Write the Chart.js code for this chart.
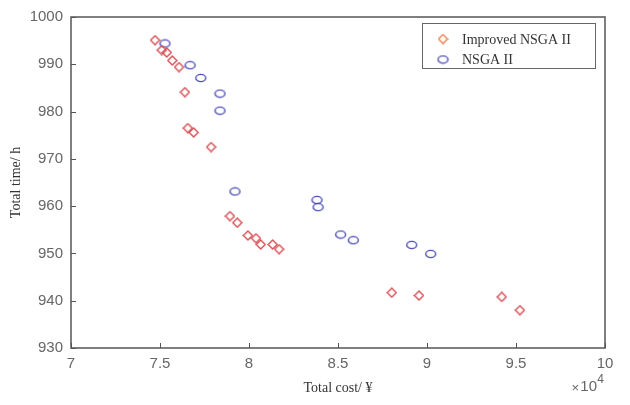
<!DOCTYPE html>
<html>
<head>
<meta charset="utf-8">
<script src="https://cdn.jsdelivr.net/npm/chart.js@4/dist/chart.umd.min.js"></script>
<style>
html, body { margin: 0; padding: 0; background: #fff; }
#wrap { width: 630px; height: 405px; }
</style>
</head>
<body>
<div id="wrap"><canvas id="chart"></canvas></div>
<script>
// values (cost in yuan, time in hours)
const improvedCost = [74720, 75100, 75380, 75690, 76070, 76400, 76560, 76890, 77870, 78930,
  79340, 79940, 80390, 80660, 81330, 81690, 88020, 89550, 94200, 95220];
const improvedTime = [995.1, 993.0, 992.5, 990.8, 989.4, 984.1, 976.5, 975.6, 972.5, 957.9,
  956.5, 953.8, 953.2, 951.9, 951.9, 950.9, 941.7, 941.1, 940.8, 938.0];
const nsgaCost = [75280, 76690, 77290, 78370, 78370, 79210, 83820, 83880, 85150, 85860, 89140, 90210];
const nsgaTime = [994.4, 989.8, 987.1, 983.8, 980.2, 963.1, 961.3, 959.8, 954.0, 952.8, 951.8, 949.9];
const seriesNames = ["Improved NSGA II", "NSGA II"];
const xTicks = [70000, 75000, 80000, 85000, 90000, 95000, 100000];
const yTicks = [930, 940, 950, 960, 970, 980, 990, 1000];

const redCol = "rgb(214,78,84)";
const blueCol = "rgb(78,78,184)";
const legendRed = "rgb(232,128,78)";

function diamond(color) {
  const c = document.createElement("canvas");
  c.width = 11; c.height = 11;
  const g = c.getContext("2d");
  g.strokeStyle = color;
  g.lineWidth = 1.4;
  g.beginPath();
  g.moveTo(5.5, 1); g.lineTo(10, 5.5); g.lineTo(5.5, 10); g.lineTo(1, 5.5);
  g.closePath();
  g.stroke();
  return c;
}

function ellipse(color) {
  const c = document.createElement("canvas");
  c.width = 13; c.height = 10;
  const g = c.getContext("2d");
  g.strokeStyle = color;
  g.lineWidth = 1.4;
  g.beginPath();
  g.ellipse(6.5, 5, 5, 3.6, 0, 0, Math.PI * 2);
  g.stroke();
  return c;
}

function toPoints(xs, ys) {
  return xs.map((x, i) => ({ x: x, y: ys[i] }));
}

const markers = [diamond(redCol), ellipse(blueCol)];
const legendMarkers = [diamond(legendRed), ellipse(blueCol)];

const frame = {
  id: "frame",
  afterDatasetsDraw(chart) {
    const ctx = chart.ctx;
    const a = chart.chartArea;
    const xs = chart.scales.x, ys = chart.scales.y;
    ctx.save();
    ctx.strokeStyle = "#555";
    ctx.lineWidth = 1.5;
    ctx.strokeRect(a.left, a.top, a.right - a.left, a.bottom - a.top);
    // inward tick marks
    ctx.lineWidth = 1;
    ctx.beginPath();
    xs.ticks.forEach((t, i) => {
      const px = Math.round(xs.getPixelForTick(i)) + 0.5;
      ctx.moveTo(px, a.bottom);
      ctx.lineTo(px, a.bottom - 5);
    });
    ys.ticks.forEach((t, i) => {
      const py = Math.round(ys.getPixelForTick(i)) + 0.5;
      ctx.moveTo(a.left, py);
      ctx.lineTo(a.left + 5, py);
    });
    ctx.stroke();

    // x10^4 multiplier
    ctx.fillStyle = "#666";
    ctx.textBaseline = "middle";
    ctx.textAlign = "right";
    ctx.font = "12px 'Liberation Sans', Arial, sans-serif";
    ctx.fillText("4", a.right - 1, 380);
    ctx.font = "15px 'Liberation Sans', Arial, sans-serif";
    ctx.fillText("10", a.right - 8, 387);
    ctx.font = "13px 'Liberation Sans', Arial, sans-serif";
    ctx.fillText("\u00d7", a.right - 26, 388);

    // legend box
    const lx = 422.5, ly = 23.5, lw = 173, lh = 45;
    ctx.fillStyle = "#fff";
    ctx.fillRect(lx, ly, lw, lh);
    ctx.strokeStyle = "#666";
    ctx.lineWidth = 1;
    ctx.strokeRect(lx, ly, lw, lh);
    ctx.font = "14px 'Liberation Serif', 'Times New Roman', serif";
    ctx.textAlign = "left";
    ctx.fillStyle = "#333";
    chart.data.datasets.forEach((ds, i) => {
      const cy = 39 + i * 20.5;
      const m = legendMarkers[i];
      ctx.drawImage(m, 443 - m.width / 2, cy - m.height / 2);
      ctx.fillText(ds.label, 462, cy + 1);
    });
    ctx.restore();
  }
};

new Chart(document.getElementById("chart"), {
  type: "scatter",
  data: {
    datasets: [
      {
        label: seriesNames[0],
        data: toPoints(improvedCost, improvedTime),
        pointStyle: markers[0],
        borderColor: redCol,
        backgroundColor: redCol
      },
      {
        label: seriesNames[1],
        data: toPoints(nsgaCost, nsgaTime),
        pointStyle: markers[1],
        borderColor: blueCol,
        backgroundColor: blueCol
      }
    ]
  },
  options: {
    responsive: true,
    maintainAspectRatio: false,
    animation: false,
    layout: { padding: { top: 13, right: 25, left: 0, bottom: 0 } },
    plugins: {
      legend: { display: false },
      tooltip: { enabled: false }
    },
    scales: {
      x: {
        type: "linear",
        min: 70000,
        max: 100000,
        afterFit(s) { s.height = 57; },
        afterBuildTicks(s) { s.ticks = xTicks.map(v => ({ value: v })); },
        grid: { display: false, drawTicks: false },
        border: { display: false },
        ticks: {
          padding: 7,
          color: "#666",
          font: { family: "'Liberation Sans', Arial, sans-serif", size: 15 },
          callback: v => String(v / 10000)
        },
        title: {
          display: true,
          text: "Total cost/ \u00a5",
          color: "#333",
          padding: { top: 0, bottom: 8 },
          font: { family: "'Liberation Serif', 'Times New Roman', serif", size: 14 }
        }
      },
      y: {
        type: "linear",
        min: 930,
        max: 1000,
        afterFit(s) { s.width = 71; },
        afterBuildTicks(s) { s.ticks = yTicks.map(v => ({ value: v })); },
        grid: { display: false, drawTicks: false },
        border: { display: false },
        ticks: {
          padding: 8,
          color: "#666",
          font: { family: "'Liberation Sans', Arial, sans-serif", size: 15 },
          callback: v => String(v)
        },
        title: {
          display: true,
          text: "Total time/ h",
          color: "#333",
          padding: { top: 8, bottom: 0 },
          font: { family: "'Liberation Serif', 'Times New Roman', serif", size: 14 }
        }
      }
    }
  },
  plugins: [frame]
});
</script>
</body>
</html>
